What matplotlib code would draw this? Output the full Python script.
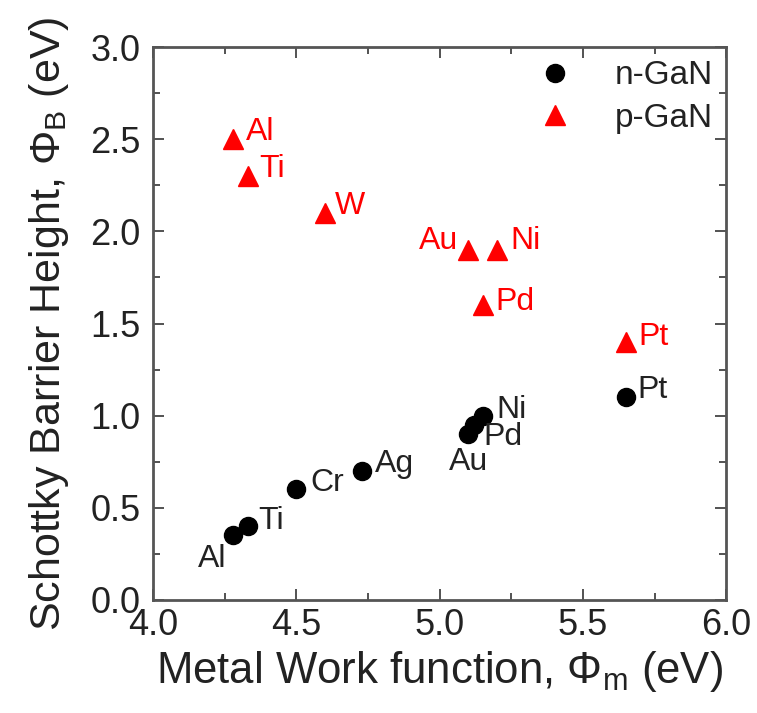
import matplotlib
matplotlib.use('Agg')
import matplotlib.pyplot as plt
from matplotlib.ticker import MultipleLocator

plt.rcParams['font.family'] = ['Liberation Sans', 'DejaVu Sans']
plt.rcParams['mathtext.fontset'] = 'custom'
plt.rcParams['mathtext.rm'] = 'Liberation Sans'
plt.rcParams['mathtext.it'] = 'Liberation Sans:italic'

# n-GaN Schottky barrier heights
n_metals = ['Al', 'Ti', 'Cr', 'Ag', 'Au', 'Pd', 'Ni', 'Pt']
n_work = [4.28, 4.33, 4.50, 4.73, 5.10, 5.12, 5.15, 5.65]
n_barrier = [0.35, 0.40, 0.60, 0.70, 0.90, 0.95, 1.00, 1.10]

# p-GaN Schottky barrier heights
p_metals = ['Al', 'Ti', 'W', 'Au', 'Ni', 'Pd', 'Pt']
p_work = [4.28, 4.33, 4.60, 5.10, 5.20, 5.15, 5.65]
p_barrier = [2.50, 2.30, 2.10, 1.90, 1.90, 1.60, 1.40]

# label offsets in pixels (dx, dy, ha, va)
n_offsets = {
    'Al': (-7, -9, 'right', 'top'),
    'Ti': (11, 5, 'left', 'center'),
    'Cr': (14, 6, 'left', 'center'),
    'Ag': (13, 7, 'left', 'center'),
    'Au': (0, -13, 'center', 'top'),
    'Pd': (9, -12, 'left', 'center'),
    'Ni': (14, 6, 'left', 'center'),
    'Pt': (11, 7, 'left', 'center'),
}
p_offsets = {
    'Al': (13, 7, 'left', 'center'),
    'Ti': (12, 7, 'left', 'center'),
    'W': (10, 7, 'left', 'center'),
    'Au': (-10, 9, 'right', 'center'),
    'Ni': (13, 9, 'left', 'center'),
    'Pd': (13, 3, 'left', 'center'),
    'Pt': (12, 5, 'left', 'center'),
}

fig = plt.figure(figsize=(7.57, 7.13), dpi=100)
ax = fig.add_axes([0.2021, 0.1585, 0.7575, 0.7755])

ax.plot(n_work, n_barrier, 'o', color='black', markersize=13, label='n-GaN')
ax.plot(p_work, p_barrier, '^', color='red', markersize=15, label='p-GaN')

for m, x, y in zip(n_metals, n_work, n_barrier):
    dx, dy, ha, va = n_offsets[m]
    ax.annotate(m, (x, y), xytext=(dx, dy), textcoords='offset pixels',
                ha=ha, va=va, fontsize=23, color='#222222')
for m, x, y in zip(p_metals, p_work, p_barrier):
    dx, dy, ha, va = p_offsets[m]
    ax.annotate(m, (x, y), xytext=(dx, dy), textcoords='offset pixels',
                ha=ha, va=va, fontsize=23, color='red')

ax.set_xlim(4.0, 6.0)
ax.set_ylim(0.0, 3.0)
ax.xaxis.set_major_locator(MultipleLocator(0.5))
ax.xaxis.set_minor_locator(MultipleLocator(0.25))
ax.yaxis.set_major_locator(MultipleLocator(0.5))
ax.yaxis.set_minor_locator(MultipleLocator(0.25))
ax.tick_params(which='both', direction='in', top=True, right=True,
               colors='#444444', labelcolor='#222222', width=1.3)
ax.tick_params(which='major', length=8, labelsize=26)
ax.tick_params(axis='y', which='major', pad=9)
ax.tick_params(axis='x', which='major', pad=6)
ax.tick_params(which='minor', length=5)
for s in ax.spines.values():
    s.set_color('#555555')
    s.set_linewidth(2)

ax.set_xlabel(r'Metal Work function, $\Phi_{\rm m}$ (eV)', fontsize=31.5,
              color='#222222', labelpad=4)
ax.set_ylabel(r'Schottky Barrier Height, $\Phi_{\rm B}$ (eV)', fontsize=31,
              color='#222222', labelpad=14)

leg = ax.legend(loc='upper right', frameon=False, fontsize=24,
                handlelength=1.0, handletextpad=1.3, labelspacing=0.35,
                borderaxespad=0.0, borderpad=0.4, numpoints=1)
for t in leg.get_texts():
    t.set_color('#222222')

fig.savefig('out.png', dpi=100)
